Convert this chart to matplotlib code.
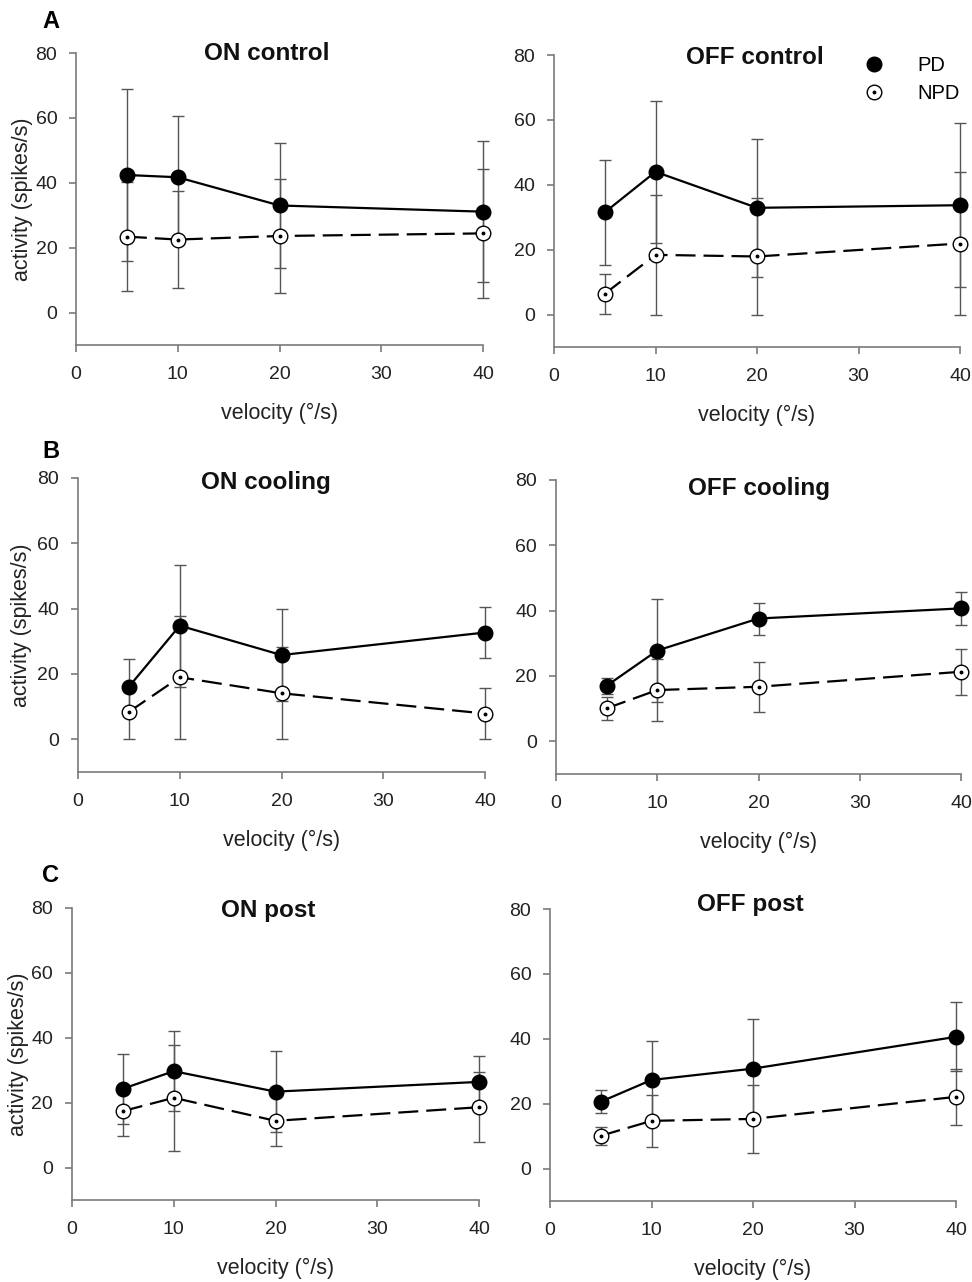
import matplotlib
matplotlib.use("Agg")
import matplotlib.pyplot as plt
from matplotlib.legend_handler import HandlerTuple
import numpy as np

plt.rcParams['font.family'] = ['Liberation Sans', 'DejaVu Sans']

velocity = [5, 10, 20, 40]

# means and SDs (spikes/s)
on_control_pd = [42.4, 41.7, 33.0, 31.1]
on_control_pd_sd = [26.6, 18.9, 19.3, 21.7]
on_control_npd = [23.4, 22.5, 23.6, 24.4]
on_control_npd_sd = [16.7, 14.9, 17.7, 20.0]

off_control_pd = [31.5, 44.0, 32.9, 33.7]
off_control_pd_sd = [16.2, 21.8, 21.3, 25.2]
off_control_npd = [6.4, 18.4, 17.9, 21.9]
off_control_npd_sd = [6.2, 18.4, 17.9, 21.9]

on_cooling_pd = [16.1, 34.8, 25.8, 32.7]
on_cooling_pd_sd = [8.5, 18.7, 14.0, 7.7]
on_cooling_npd = [8.4, 19.0, 14.1, 7.9]
on_cooling_npd_sd = [8.4, 18.8, 14.1, 7.7]

off_cooling_pd = [17.0, 27.8, 37.6, 40.7]
off_cooling_pd_sd = [2.5, 15.9, 4.9, 5.0]
off_cooling_npd = [10.1, 15.7, 16.7, 21.3]
off_cooling_npd_sd = [3.5, 9.6, 7.6, 7.1]

on_post_pd = [24.3, 29.7, 23.4, 26.4]
on_post_pd_sd = [10.8, 12.3, 12.5, 7.9]
on_post_npd = [17.4, 21.5, 14.4, 18.6]
on_post_npd_sd = [7.7, 16.3, 7.9, 10.8]

off_post_pd = [20.6, 27.3, 30.8, 40.6]
off_post_pd_sd = [3.6, 12.0, 15.2, 10.6]
off_post_npd = [10.1, 14.7, 15.3, 22.1]
off_post_npd_sd = [2.8, 8.0, 10.4, 8.7]

W, H = 972, 1282
fig = plt.figure(figsize=(W / 100, H / 100), dpi=100)

def px_axes(left, right, top, bottom):
    return fig.add_axes([left / W, 1 - bottom / H, (right - left) / W, (bottom - top) / H])

def draw_panel(ax, box, title, pd, pd_sd, npd, npd_sd, ylab_x, title_xy):
    gray = '#555555'
    for m, s in [(pd, pd_sd), (npd, npd_sd)]:
        m = np.array(m)
        s = np.array(s)
        lower = np.minimum(s, m)
        ax.errorbar(velocity, m, yerr=[lower, s], fmt='none', ecolor=gray,
                    elinewidth=1, capsize=4.5, capthick=1, zorder=1, clip_on=False)
    ax.plot(velocity, pd, '-', color='black', lw=1.6, marker='o', ms=10.5,
            mfc='black', mec='black', zorder=3, clip_on=False)
    ax.plot(velocity, npd, color='black', lw=1.6, dashes=(9, 3.6), marker='o', ms=10.5,
            mfc='white', mec='black', mew=1.0, zorder=3, clip_on=False)
    ax.plot(velocity, npd, ls='none', marker='o', ms=1.8, color='black', zorder=4, clip_on=False)

    ax.set_xlim(0, 40)
    ax.set_ylim(-10, 80)
    ax.set_xticks([0, 10, 20, 30, 40])
    ax.set_yticks([0, 20, 40, 60, 80])
    for side in ['top', 'right']:
        ax.spines[side].set_visible(False)
    for side in ['left', 'bottom']:
        ax.spines[side].set_color('#7a7a7a')
        ax.spines[side].set_linewidth(1.2)
    ax.tick_params(axis='both', colors='#7a7a7a', labelcolor='#222222', labelsize=14,
                   length=5, width=1.2, direction='out')
    ax.tick_params(axis='x', pad=10)
    ax.tick_params(axis='y', pad=8.5)
    left, right, top, bottom = box
    ax.set_xlabel('velocity (°/s)', fontsize=15.5, color='#222222', va='center')
    ax.xaxis.set_label_coords(0.5, -68 / (bottom - top))
    if ylab_x is not None:
        ax.set_ylabel('activity (spikes/s)', fontsize=15.5, color='#222222', va='center')
        ax.yaxis.set_label_coords((ylab_x - left) / (right - left), 0.5)
    tx, ty = title_xy
    ax.text((tx - left) / (right - left), (bottom - ty) / (bottom - top), title,
            transform=ax.transAxes, fontsize=17.5, fontweight='bold', color='#111111',
            ha='center', va='center')

panels = [
    ((76, 483, 53, 345), 'ON control', on_control_pd, on_control_pd_sd, on_control_npd, on_control_npd_sd, 22, (267, 54)),
    ((554, 960, 55, 347), 'OFF control', off_control_pd, off_control_pd_sd, off_control_npd, off_control_npd_sd, None, (755, 57)),
    ((78, 485, 478, 772), 'ON cooling', on_cooling_pd, on_cooling_pd_sd, on_cooling_npd, on_cooling_npd_sd, 22, (266, 483)),
    ((556, 961, 480, 774), 'OFF cooling', off_cooling_pd, off_cooling_pd_sd, off_cooling_npd, off_cooling_npd_sd, None, (759, 489)),
    ((72, 479, 908, 1200), 'ON post', on_post_pd, on_post_pd_sd, on_post_npd, on_post_npd_sd, 19, (268, 911)),
    ((550, 956, 909, 1201), 'OFF post', off_post_pd, off_post_pd_sd, off_post_npd, off_post_npd_sd, None, (750, 905)),
]

axes = []
for box, title, pd, pd_sd, npd, npd_sd, ylx, txy in panels:
    ax = px_axes(*box)
    draw_panel(ax, box, title, pd, pd_sd, npd, npd_sd, ylx, txy)
    axes.append(ax)

# legend in OFF control panel
h1, = axes[1].plot([], [], 'o', ms=10.5, mfc='black', mec='black')
h2, = axes[1].plot([], [], 'o', ms=10.5, mfc='white', mec='black', mew=1.0)
h3, = axes[1].plot([], [], 'o', ms=1.8, color='black')
axes[1].legend([h1, (h2, h3)], ['PD', 'NPD'], loc='upper right', bbox_to_anchor=(1.045, 1.06),
               frameon=False, fontsize=14.5, handlelength=1.5, handletextpad=1.4,
               labelspacing=0.45, handler_map={tuple: HandlerTuple(ndivide=1, pad=0)})

for letter, ypix in [('A', 21), ('B', 452), ('C', 875)]:
    fig.text(42 / W, 1 - ypix / H, letter, fontsize=17, fontweight='bold', ha='left', va='center')

fig.savefig('out.png', dpi=100)
